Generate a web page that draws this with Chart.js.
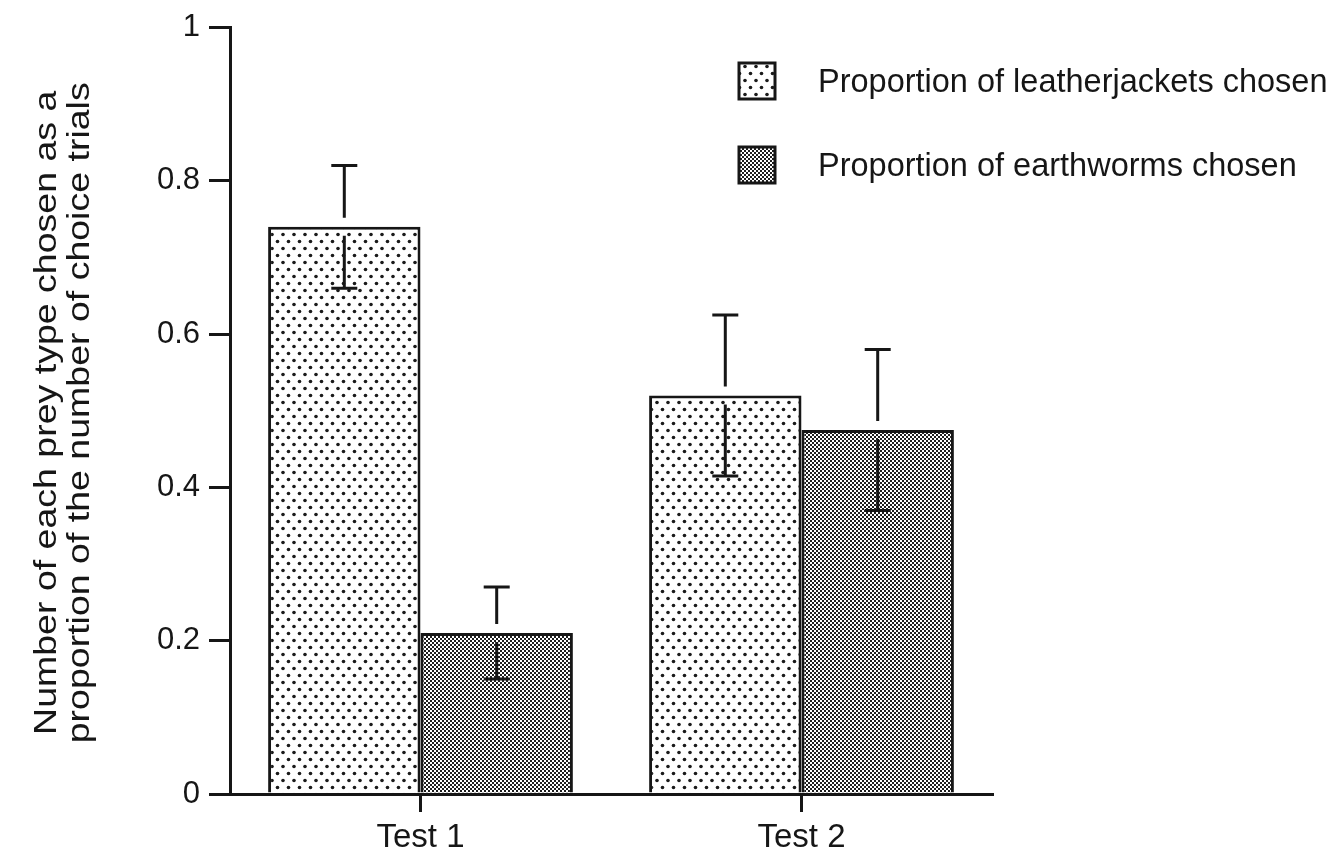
<!DOCTYPE html>
<html>
<head>
<meta charset="utf-8">
<script src="https://cdn.jsdelivr.net/npm/chart.js@4.4.1/dist/chart.umd.min.js"></script>
<style>
  html, body { margin: 0; padding: 0; background: #ffffff; }
  canvas { display: block; }
</style>
</head>
<body>
<canvas id="chart" width="1333" height="858"></canvas>
<script>
// ---- data ----
const categories = ['Test 1', 'Test 2'];
const seriesNames = ['Proportion of leatherjackets chosen', 'Proportion of earthworms chosen'];
const leatherjackets = [0.74, 0.52];
const leatherjacketsErr = [0.08, 0.105];
const earthworms = [0.21, 0.475];
const earthwormsErr = [0.06, 0.105];
const yTicks = [0, 0.2, 0.4, 0.6, 0.8, 1];
const yTitle = ['Number of each prey type chosen as a', 'proportion of the number of choice trials'];

const FONT = '"Liberation Sans", Arial, Helvetica, sans-serif';
const INK = '#161616';

// ---- fill patterns ----
function dotPattern() {
  const t = document.createElement('canvas');
  t.width = 11; t.height = 14;
  const g = t.getContext('2d');
  g.fillStyle = '#ffffff';
  g.fillRect(0, 0, 11, 14);
  g.fillStyle = '#1a1a1a';
  [[2.5, 3.5], [8, 10.5]].forEach(([x, y]) => {
    g.beginPath(); g.arc(x, y, 1.8, 0, Math.PI * 2); g.fill();
  });
  return g.createPattern(t, 'repeat');
}
function checkPattern() {
  const t = document.createElement('canvas');
  t.width = 4; t.height = 4;
  const g = t.getContext('2d');
  g.fillStyle = '#1e1e1e';
  g.fillRect(0, 0, 4, 4);
  g.fillStyle = '#ffffff';
  g.fillRect(0, 0, 2, 2);
  g.fillRect(2, 2, 2, 2);
  return g.createPattern(t, 'repeat');
}

// ---- error bars (gap left around the bar top) ----
const errorBars = {
  id: 'errorBars',
  afterDatasetsDraw(chart) {
    const ctx = chart.ctx;
    const ys = chart.scales.y;
    const gap = 9, cap = 13;
    ctx.save();
    ctx.strokeStyle = INK;
    ctx.lineWidth = 3;
    chart.data.datasets.forEach((ds, i) => {
      const meta = chart.getDatasetMeta(i);
      meta.data.forEach((bar, j) => {
        const v = ds.data[j], e = ds.errors[j];
        const x = bar.x;
        const top = ys.getPixelForValue(v);
        const up = ys.getPixelForValue(v + e);
        const lo = ys.getPixelForValue(v - e);
        ctx.beginPath();
        ctx.moveTo(x, up); ctx.lineTo(x, top - gap);
        ctx.moveTo(x - cap, up); ctx.lineTo(x + cap, up);
        ctx.moveTo(x, top + gap); ctx.lineTo(x, lo);
        ctx.moveTo(x - cap, lo); ctx.lineTo(x + cap, lo);
        ctx.stroke();
      });
    });
    ctx.restore();
  }
};

// ---- legend boxes with pattern swatches ----
const patternLegend = {
  id: 'patternLegend',
  afterDraw(chart) {
    const ctx = chart.ctx;
    const boxX = 739, boxY = 63, size = 36, step = 84, textX = 818;
    ctx.save();
    chart.data.datasets.forEach((ds, i) => {
      const y = boxY + i * step;
      ctx.fillStyle = ds.backgroundColor;
      ctx.fillRect(boxX, y, size, size);
      ctx.lineWidth = 3;
      ctx.strokeStyle = INK;
      ctx.strokeRect(boxX, y, size, size);
      ctx.fillStyle = INK;
      ctx.font = '32.5px ' + FONT;
      ctx.textAlign = 'left';
      ctx.textBaseline = 'middle';
      ctx.fillText(ds.label, textX, y + size / 2 + 2);
    });
    ctx.restore();
  }
};

// ---- two-line rotated y-axis title ----
const yAxisTitle = {
  id: 'yAxisTitle',
  afterDraw(chart) {
    const ctx = chart.ctx;
    const area = chart.chartArea;
    const cy = (area.top + area.bottom) / 2 + 2;
    const xs = [47, 80];
    ctx.save();
    ctx.fillStyle = INK;
    ctx.font = '31px ' + FONT;
    ctx.textAlign = 'center';
    ctx.textBaseline = 'middle';
    yTitle.forEach((line, i) => {
      ctx.save();
      ctx.translate(xs[i], cy);
      ctx.rotate(-Math.PI / 2);
      ctx.scale(1.21, 1);
      ctx.fillText(line, 0, 0);
      ctx.restore();
    });
    ctx.restore();
  }
};

const ctx = document.getElementById('chart').getContext('2d');
new Chart(ctx, {
  type: 'bar',
  data: {
    labels: categories,
    datasets: [
      {
        label: seriesNames[0],
        data: leatherjackets,
        errors: leatherjacketsErr,
        backgroundColor: dotPattern(),
        borderColor: INK,
        borderWidth: 3,
        borderSkipped: 'bottom'
      },
      {
        label: seriesNames[1],
        data: earthworms,
        errors: earthwormsErr,
        backgroundColor: checkPattern(),
        borderColor: INK,
        borderWidth: 3,
        borderSkipped: 'bottom'
      }
    ]
  },
  options: {
    responsive: false,
    animation: false,
    layout: { padding: { left: 0, top: 27, right: 341, bottom: 0 } },
    datasets: { bar: { categoryPercentage: 0.8, barPercentage: 1.0 } },
    plugins: {
      legend: { display: false },
      tooltip: { enabled: false },
      title: { display: false }
    },
    scales: {
      x: {
        afterFit(scale) { scale.height = 64; },
        grid: {
          offset: false,
          drawOnChartArea: false,
          drawTicks: true,
          tickLength: 18,
          color: INK,
          lineWidth: 3
        },
        border: { display: true, color: INK, width: 3 },
        ticks: {
          color: INK,
          font: { family: FONT, size: 33 },
          padding: 6
        }
      },
      y: {
        min: 0,
        max: 1,
        afterFit(scale) { scale.width = 230; },
        afterBuildTicks(scale) { scale.ticks = yTicks.map(v => ({ value: v })); },
        grid: {
          drawOnChartArea: false,
          drawTicks: true,
          tickLength: 21,
          color: INK,
          lineWidth: 3
        },
        border: { display: true, color: INK, width: 3 },
        ticks: {
          color: INK,
          font: { family: FONT, size: 31 },
          padding: 9,
          callback: v => String(v)
        },
        title: { display: false }
      }
    }
  },
  plugins: [errorBars, patternLegend, yAxisTitle]
});
</script>
</body>
</html>
